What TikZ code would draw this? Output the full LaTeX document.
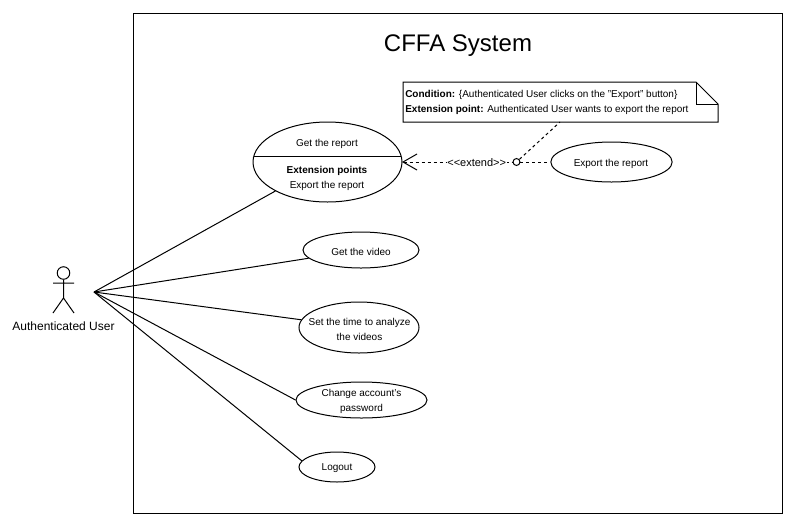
\documentclass[tikz,border=0pt]{standalone}
\usepackage{fontspec}
\setmainfont{Liberation Sans}
\usetikzlibrary{arrows.meta,shapes.geometric}
\tikzset{
  line/.style={draw=black,line width=0.75pt},
  uc/.style={line,ellipse,inner sep=0pt,fill=white},
  dashline/.style={line,dash pattern=on 2.25pt off 2.25pt},
  lbl/.style={font=\fontsize{7.5pt}{11.25pt}\selectfont,inner sep=0pt,align=center}
}
\begin{document}
\begin{tikzpicture}[x=0.75pt,y=-0.75pt]
\useasboundingbox[fill=white] (0,0) rectangle (793,522);
\node[line,minimum width=486.75pt,minimum height=375pt,inner sep=0pt,anchor=north west] (sys) at (133.2,12.5) {};
\node[font=\fontsize{18pt}{22pt}\selectfont,inner sep=0pt] (title) at (458,46) {CFFA System};
% actor
\coordinate (hub) at (94,292);
\node[line,circle,minimum size=9.4pt,inner sep=0pt] (head) at (63.5,273) {};
\coordinate (shL) at (53,283);
\coordinate (shR) at (74,283);
\coordinate (hip) at (63.5,298);
\coordinate (ftL) at (53,313);
\coordinate (ftR) at (74,313);
\draw[line] (head.south) -- (hip) -- (ftL) (hip) -- (ftR) (shL) -- (shR);
\node[font=\fontsize{9pt}{11pt}\selectfont,inner sep=0pt] (actor) at (63.5,326.5) {Authenticated User};
% use cases
\node[uc,minimum width=111.75pt,minimum height=60pt] (report) at (327.5,162) {};
\draw[line] (253.8,156) -- (401.2,156);
\node[lbl] (rt) at (327,143.5) {Get the report};
\node[lbl] (rb) at (327,178) {\textbf{Extension points}\\Export the report};
\node[uc,minimum width=91pt,minimum height=30pt] (export) at (611.5,162) {};
\node[lbl] (exportt) at (611,163.5) {Export the report};
\node[uc,minimum width=87pt,minimum height=27pt] (video) at (361,250) {};
\node[lbl] (videot) at (361,251.5) {Get the video};
\node[uc,minimum width=90pt,minimum height=38.25pt] (time) at (359,327.5) {};
\node[lbl] (timet) at (359.5,329.5) {Set the time to analyze\\the videos};
\node[uc,minimum width=98.25pt,minimum height=27pt] (pass) at (361.5,400) {};
\node[lbl] (passt) at (361.5,401.5) {Change account's\\password};
\node[uc,minimum width=57pt,minimum height=22.5pt] (logout) at (337,467) {};
\node[lbl] (logoutt) at (337,468.5) {Logout};
% associations
\draw[line] (hub) -- (report);
\draw[line] (hub) -- (video);
\draw[line] (hub) -- (time);
\draw[line] (hub) -- (pass.west);
\draw[line] (hub) -- (logout.170);
% note
\coordinate (nA) at (403,82);
\coordinate (nB) at (696,82);
\coordinate (nC) at (718,104);
\coordinate (nD) at (718,122);
\coordinate (nE) at (403,122);
\coordinate (nF) at (696,104);
\draw[line,fill=white] (nA) -- (nB) -- (nC) -- (nD) -- (nE) -- cycle;
\draw[line] (nB) -- (nF) -- (nC);
\node[lbl,anchor=west,align=left,font=\fontsize{7.5pt}{11pt}\selectfont] (notetext) at (405,102.5) {\textbf{Condition:} \{Authenticated User clicks on the {"}Export{"} button\}\\\textbf{Extension point:} Authenticated User wants to export the report};
% extend
\node[line,circle,minimum size=5.2pt,inner sep=0pt] (pt) at (516.5,162) {};
\coordinate (noteAnchor) at (560,122);
\coordinate (rE) at (402,162);
\draw[dashline] (pt) -- (noteAnchor);
\draw[dashline] (pt) -- (export);
\draw[dashline,{Straight Barb[length=10.5pt,width=12pt,line width=0.75pt,sep=0pt]}-] (rE) -- (pt);
\node[fill=white,inner sep=0.5pt,font=\addfontfeatures{Ligatures=NoCommon}\fontsize{8.25pt}{10pt}\selectfont] (ext) at (476.7,162.5) {{<}{<}extend{>}{>}};
\end{tikzpicture}
\end{document}
